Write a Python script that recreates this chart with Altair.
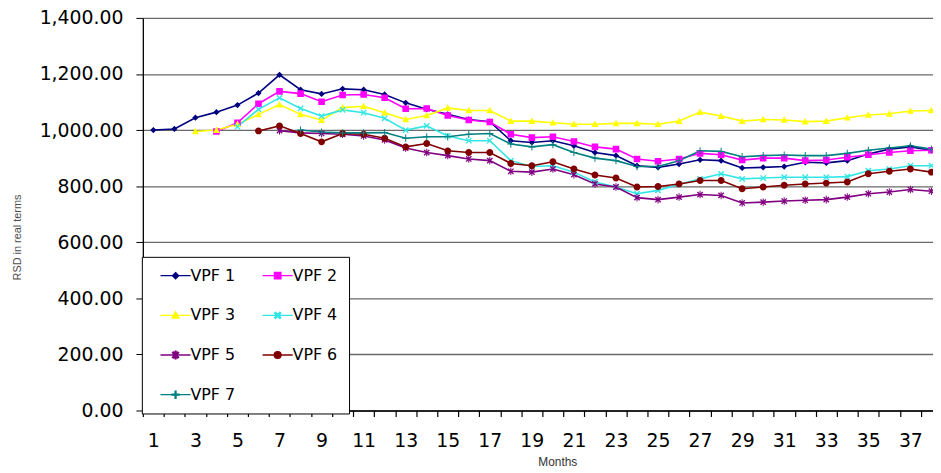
import altair as alt
import pandas as pd

months = list(range(1, 39))
series_names = ["VPF 1", "VPF 2", "VPF 3", "VPF 4", "VPF 5", "VPF 6", "VPF 7"]

vpf1 = [1000, 1004, 1044, 1064, 1089, 1132, 1197, 1144, 1129, 1147, 1144, 1127, 1097, 1074, 1056, 1038, 1030,
        962, 956, 962, 944, 920, 909, 873, 867, 879, 894, 891, 865, 867, 870, 885, 883, 891, 915, 932, 940, 928]
vpf2 = [None] * 3 + [995, 1026, 1094, 1138, 1130, 1101, 1125, 1127, 1115, 1076, 1077, 1052, 1036, 1029, 985, 973,
                     976, 959, 940, 932, 897, 889, 897, 917, 912, 893, 900, 900, 891, 893, 903, 912, 920, 926, 928]
vpf3 = [None] * 2 + [995, 1000, 1021, 1056, 1091, 1056, 1035, 1080, 1085, 1062, 1038, 1052, 1079, 1070, 1070, 1032,
                     1032, 1026, 1021, 1021, 1024, 1024, 1021, 1032, 1064, 1050, 1032, 1038, 1036, 1030, 1032, 1044,
                     1054, 1058, 1068, 1070]
vpf4 = [None] * 4 + [1012, 1074, 1115, 1077, 1050, 1072, 1062, 1042, 1000, 1015, 979, 962, 962, 891, 870, 873, 850,
                     815, 797, 773, 785, 806, 826, 844, 826, 829, 832, 832, 832, 834, 855, 861, 873, 873]
vpf5 = [None] * 6 + [998, 990, 988, 985, 979, 965, 936, 920, 909, 897, 891, 853, 850, 861, 841, 808, 797, 759, 752,
                     761, 770, 767, 740, 743, 747, 750, 752, 761, 773, 779, 788, 782]
vpf6 = [None] * 5 + [997, 1015, 988, 958, 988, 985, 971, 940, 952, 926, 920, 920, 881, 873, 887, 861, 840, 829, 797,
                     799, 808, 820, 820, 791, 797, 803, 808, 811, 815, 844, 853, 861, 850]
vpf7 = [None] * 7 + [1000, 993, 990, 990, 991, 971, 976, 976, 985, 988, 950, 940, 948, 920, 900, 891, 870, 870, 891,
                     926, 924, 905, 909, 911, 909, 909, 917, 928, 936, 944, 932]

y_ticks = [0, 200, 400, 600, 800, 1000, 1200, 1400]

colors = ["#000080", "#FF00FF", "#FFFF00", "#33E6E6", "#800080", "#800000", "#008080"]

# legend line stub (zero-area: invisible on the filled, unstroked chart markers)
stub = "M-7,0M-4.8,0H4.8"
shapes = [
    stub + "M0,-1L1,0L0,1L-1,0Z",
    stub + "M-1.05,-1.05H1.05V1.05H-1.05Z",
    stub + "M0,-1.15L1.1,0.9L-1.1,0.9Z",
    stub + "M-1,-0.7L-0.7,-1L1,0.7L0.7,1ZM0.7,-1L1,-0.7L-0.7,1L-1,0.7Z",
    stub + "M-1,-0.7L-0.7,-1L1,0.7L0.7,1ZM0.7,-1L1,-0.7L-0.7,1L-1,0.7ZM-0.16,-1.2H0.16V1.2H-0.16Z",
    stub + "M1.1,0A1.1,1.1,0,1,1,-1.1,0A1.1,1.1,0,1,1,1.1,0Z",
    stub + "M-1.15,-0.16H1.15V0.16H-1.15ZM-0.16,-1.15H0.16V1.15H-0.16Z",
]

rows = []
for name, vals in zip(series_names, [vpf1, vpf2, vpf3, vpf4, vpf5, vpf6, vpf7]):
    for m, v in zip(months, vals):
        if v is not None:
            rows.append({"month": m, "value": v, "series": name})
df = pd.DataFrame(rows)

tick_vals = [m - 0.5 for m in months] + [38.5]

x_enc = alt.X(
    "month:Q",
    scale=alt.Scale(domain=[0.5, 38.5], nice=False, zero=False),
    axis=alt.Axis(
        values=tick_vals,
        labelExpr="((datum.value + 0.5) % 2 == 1 && datum.value < 38) ? format(datum.value + 0.5, 'd') : ''",
        labelOffset=10.6,
        labelOverlap=False,
        labelFlush=False,
        labelFont="DejaVu Sans",
        labelFontSize=19,
        labelColor="black",
        labelBaseline="alphabetic",
        labelPadding=30,
        ticks=True,
        tickSize=6,
        tickWidth=1.2,
        tickOpacity=1,
        tickColor="#000000",
        domainColor="black",
        domainWidth=1.3,
        grid=False,
        title="Months",
        titleFont="Liberation Sans",
        titleFontSize=12,
        titleFontWeight="normal",
        titleColor="#333333",
        titleX=418,
        titleY=55,
        titleBaseline="alphabetic",
    ),
)
y_enc = alt.Y(
    "value:Q",
    scale=alt.Scale(domain=[0, 1400], nice=False),
    axis=alt.Axis(
        values=y_ticks,
        format=",.2f",
        labelFont="DejaVu Sans",
        labelFontSize=19,
        labelColor="black",
        labelPadding=13,
        tickSize=7,
        tickColor="black",
        domainColor="black",
        domainWidth=1.3,
        grid=True,
        gridColor="#6a6a6a",
        gridWidth=1.3,
        title="RSD in real terms",
        titleFont="Liberation Sans",
        titleFontSize=11,
        titleFontWeight="normal",
        titleColor="#4d4d4d",
        titleX=-126,
        titleY=221,
        titleAngle=-90,
        titleBaseline="middle",
        titleAlign="center",
    ),
)

# lines: own colour scale (domain listed in reverse so it is kept apart from the legend scales)
line_scale = alt.Scale(domain=series_names[::-1], range=colors[::-1])
fill_scale = alt.Scale(domain=series_names, range=colors)
shape_scale = alt.Scale(domain=series_names, range=shapes)
stroke_scale = alt.Scale(domain=series_names, range=colors)

nbsp = "\u00a0" * 5
legend = alt.Legend(
    orient="none",
    legendX=-1,
    legendY=241,
    direction="horizontal",
    columns=2,
    title=None,
    fillColor="white",
    strokeColor="black",
    padding=11,
    labelFont="DejaVu Sans",
    labelFontSize=16,
    labelColor="black",
    labelExpr="datum.index % 2 == 1 ? datum.label + '" + nbsp + "' : datum.label",
    labelOffset=7,
    symbolOffset=15,
    columnPadding=17,
    rowPadding=24,
    symbolSize=40,
    symbolStrokeWidth=1.3,
    symbolFillColor="black",
    symbolOpacity=1,
)

base = alt.Chart(df)

lines = base.mark_line(strokeWidth=1.6).encode(
    x=x_enc,
    y=y_enc,
    color=alt.Color("series:N", scale=line_scale, legend=None),
)

points = base.mark_point(filled=True, opacity=1, size=40).encode(
    x=x_enc,
    y=y_enc,
    fill=alt.Fill("series:N", scale=fill_scale, legend=legend),
    shape=alt.Shape("series:N", scale=shape_scale, legend=legend),
    stroke=alt.Stroke("series:N", scale=stroke_scale, legend=legend),
    strokeWidth=alt.value(0),
)

chart = alt.layer(lines, points).properties(
    width=806,
    height=396,
    padding={"left": 136, "top": 8, "right": -9, "bottom": 56},
    autosize=alt.AutoSizeParams(type="none"),
    background="white",
).configure_view(stroke=None)

chart.save("out.html", embed_options={"renderer": "svg", "actions": False})
